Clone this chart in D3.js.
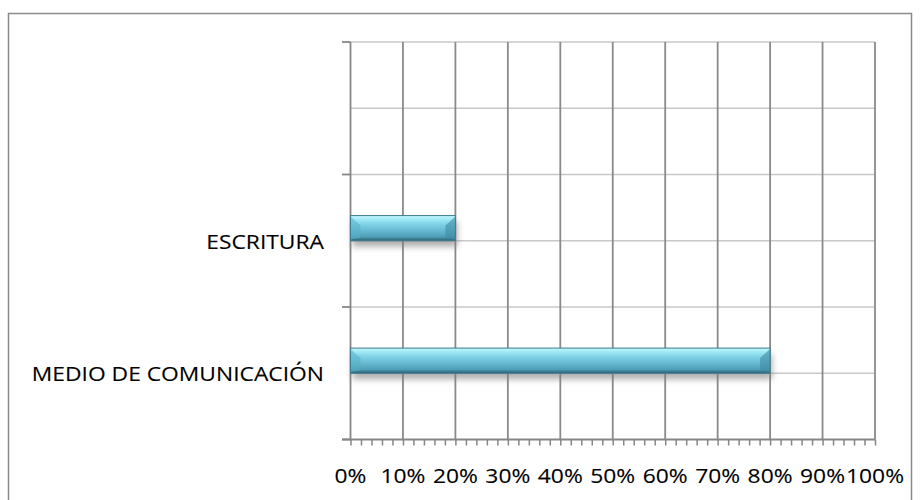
<!DOCTYPE html>
<html><head><meta charset="utf-8">
<script src="https://cdn.jsdelivr.net/npm/d3@7"></script>
<style>html,body{margin:0;padding:0;background:#fff;}svg{display:block;}</style>
</head><body>
<svg id="chart" width="920" height="500"></svg>
<script>
// Categories listed bottom-to-top as in the chart (top slot is empty)
const categories = ["MEDIO DE COMUNICACIÓN", "ESCRITURA", ""];
const values = [0.80, 0.20, null];
const xTicks = [0, 0.1, 0.2, 0.3, 0.4, 0.5, 0.6, 0.7, 0.8, 0.9, 1.0];
const xTickLabels = ["0%", "10%", "20%", "30%", "40%", "50%", "60%", "70%", "80%", "90%", "100%"];

const svg = d3.select("#chart");
const FONT = "'Open Sans', 'Liberation Sans', sans-serif";
const SX = 1.17;

// outer frame
svg.append("rect").attr("x", 8.5).attr("y", 13.5).attr("width", 903).attr("height", 500)
  .attr("fill", "#fff").attr("stroke", "#8a8a8a").attr("stroke-width", 1.5);

const x = d3.scaleLinear().domain([0, 1]).range([350.5, 875]);
const y = d3.scaleBand().domain(categories.slice().reverse()).range([42, 439.5]).padding(0);
const bw = y.bandwidth();

const defs = svg.append("defs");
const g1 = defs.append("linearGradient").attr("id", "barGrad").attr("x1", 0).attr("y1", 0).attr("x2", 0).attr("y2", 1);
[[0, "#c9f6fd"], [0.12, "#a6ecf8"], [0.3, "#86d7ea"], [0.6, "#66b9d2"], [0.85, "#4f9db6"], [0.92, "#3b7f94"], [1, "#2b5f70"]]
  .forEach(([o, c]) => g1.append("stop").attr("offset", o).attr("stop-color", c));
defs.append("filter").attr("id", "shadow").attr("x", "-10%").attr("y", "-50%").attr("width", "120%").attr("height", "200%")
  .append("feGaussianBlur").attr("stdDeviation", 3);

// horizontal gridlines at band edges and centers
const hLines = [];
categories.forEach(c => { hLines.push(y(c)); hLines.push(y(c) + bw / 2); });
svg.append("g").selectAll("line").data(hLines).join("line")
  .attr("x1", x(0)).attr("x2", x(1)).attr("y1", d => d).attr("y2", d => d)
  .attr("stroke", "#c8c8c8").attr("stroke-width", 1.5);

// vertical gridlines
svg.append("g").selectAll("line").data(xTicks.slice(1)).join("line")
  .attr("x1", d => x(d)).attr("x2", d => x(d)).attr("y1", 42).attr("y2", 439.5)
  .attr("stroke", "#8a8a8a").attr("stroke-width", 1.8);

// bottom axis with minor ticks
const xAxis = d3.axisBottom(x).tickValues(d3.range(0, 51).map(i => i / 50)).tickSize(6).tickFormat("");
const ax = svg.append("g").attr("transform", "translate(0,439.5)").call(xAxis);
ax.select(".domain").remove();
ax.selectAll(".tick line").attr("stroke", "#868686").attr("stroke-width", 1.5);
svg.append("line").attr("x1", 342).attr("x2", x(1)).attr("y1", 439.5).attr("y2", 439.5)
  .attr("stroke", "#868686").attr("stroke-width", 1.8);

// left axis line and category ticks
svg.append("line").attr("x1", x(0)).attr("x2", x(0)).attr("y1", 42).attr("y2", 439.5)
  .attr("stroke", "#868686").attr("stroke-width", 1.8);
const catEdges = categories.map(c => y(c)).concat([y.range()[1]]);
svg.append("g").selectAll("line").data(catEdges).join("line")
  .attr("x1", 342).attr("x2", x(0)).attr("y1", d => d).attr("y2", d => d)
  .attr("stroke", "#868686").attr("stroke-width", 1.8);

// x tick labels
svg.append("g").selectAll("text").data(xTicks).join("text")
  .attr("transform", d => `translate(${x(d)},483) scale(${SX},1)`)
  .attr("text-anchor", "middle").attr("font-family", FONT).attr("font-size", 19.5)
  .attr("fill", "#000").attr("stroke", "#000").attr("stroke-width", 0.12)
  .text((d, i) => xTickLabels[i]);

// category labels
svg.append("g").selectAll("text").data(categories).join("text")
  .attr("transform", d => `translate(324,${y(d) + bw / 2 + 8}) scale(${SX},1)`)
  .attr("text-anchor", "end").attr("font-family", FONT).attr("font-size", 19.5)
  .attr("fill", "#000").attr("stroke", "#000").attr("stroke-width", 0.12)
  .text(d => d);

// bars
const barH = bw * 0.19;
const data = categories.map((c, i) => ({ c, v: values[i] })).filter(d => d.v != null);
const bars = svg.append("g").selectAll("g").data(data).join("g");
bars.append("rect")
  .attr("x", x(0) + 2).attr("y", d => y(d.c) + bw / 2 - barH + 6)
  .attr("width", d => x(d.v) - x(0)).attr("height", barH)
  .attr("fill", "#7a7a7a").attr("opacity", 0.6).attr("filter", "url(#shadow)");
bars.append("rect")
  .attr("x", x(0)).attr("y", d => y(d.c) + bw / 2 - barH)
  .attr("width", d => x(d.v) - x(0)).attr("height", barH)
  .attr("fill", "url(#barGrad)");
const b = 10;
bars.append("polygon").attr("points", d => {
  const x0 = x(0), y0 = y(d.c) + bw / 2 - barH, y1 = y0 + barH;
  return [[x0, y0 + 1], [x0 + b, y0 + b], [x0 + b, y1 - 3], [x0, y1 - 1]].join(" ");
}).attr("fill", "#5aaec8").attr("opacity", 0.55);
bars.append("polygon").attr("points", d => {
  const x1 = x(d.v), y0 = y(d.c) + bw / 2 - barH, y1 = y0 + barH;
  return [[x1, y0 + 1], [x1 - b, y0 + b], [x1 - b, y1 - 3], [x1, y1 - 1]].join(" ");
}).attr("fill", "#3f8aa2").attr("opacity", 0.6);
bars.append("rect")
  .attr("x", x(0)).attr("y", d => y(d.c) + bw / 2 - barH)
  .attr("width", d => x(d.v) - x(0)).attr("height", barH)
  .attr("fill", "none").attr("stroke", "#3d7c90").attr("stroke-width", 1);
</script>
</body></html>
